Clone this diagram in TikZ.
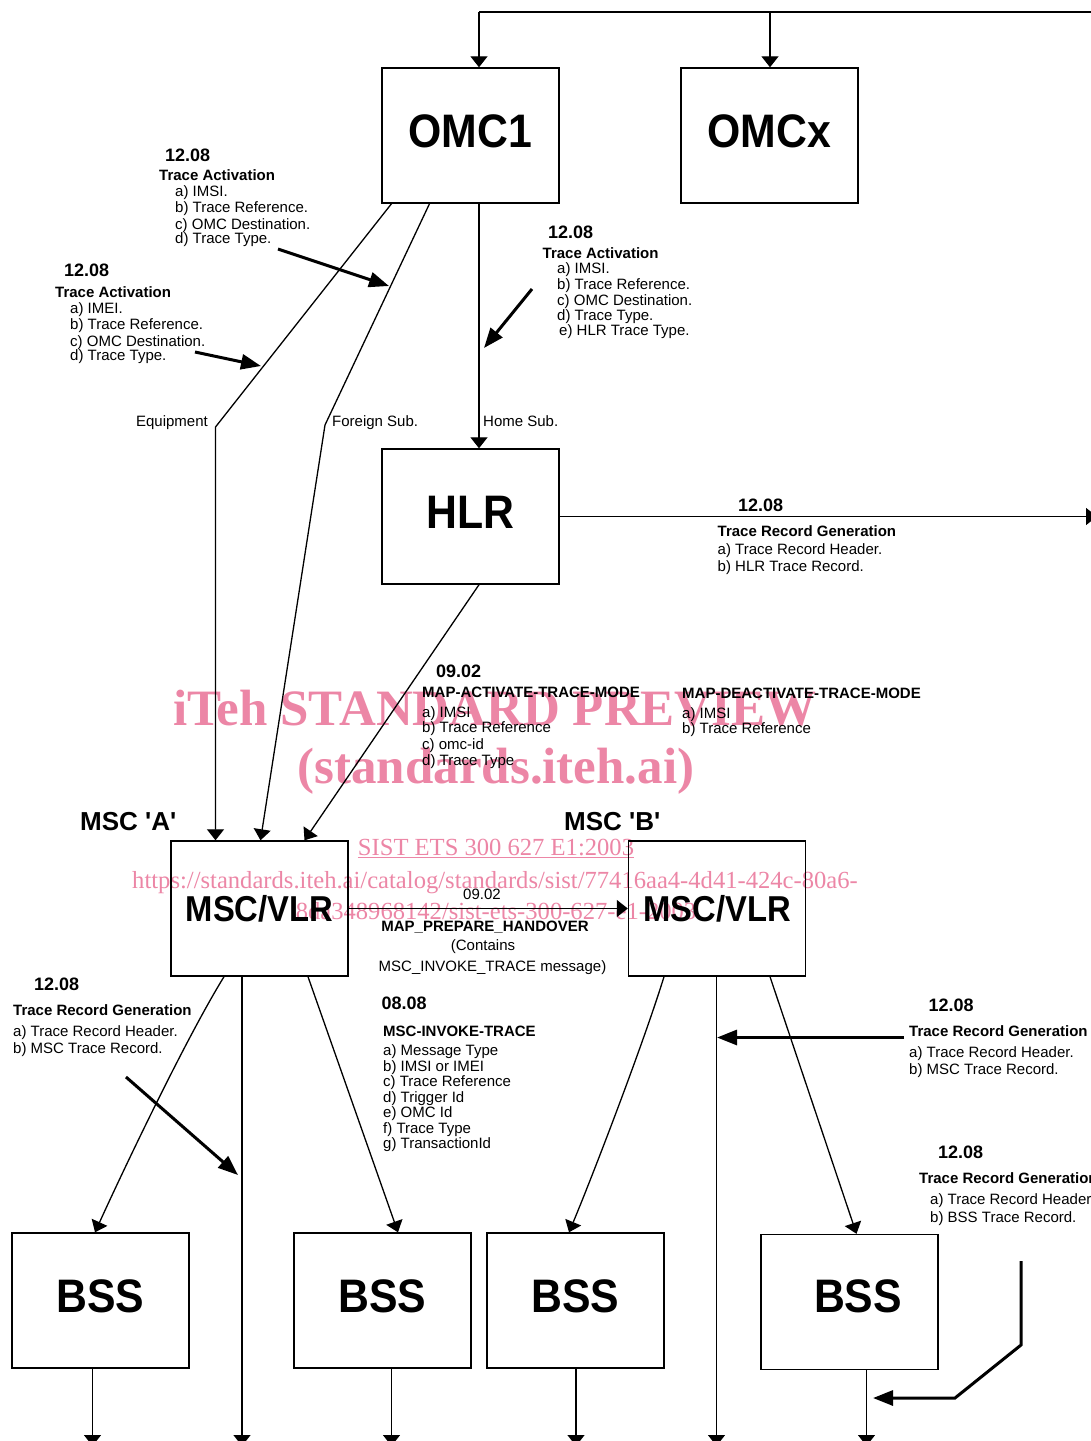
\documentclass[tikz,border=0pt]{standalone}
\usepackage{fontspec}
\setmainfont{Liberation Sans}[Ligatures=TeXOff]
\newfontfamily\wmfont{Liberation Serif}[Ligatures=TeXOff]
\usetikzlibrary{arrows.meta,calc}
\definecolor{wmpink}{RGB}{236,134,166}
\newcommand{\boxfont}{\fontsize{47}{47}\selectfont\bfseries}
\newcommand{\bxl}[1]{\scalebox{0.91}[1]{#1}}
\begin{document}
\begin{tikzpicture}[x=1pt,y=-1pt,
  box/.style={draw, line width=1.4pt, minimum width=177pt, minimum height=135pt, inner sep=0pt, font=\boxfont},
  lin/.style={line width=1.3pt},
  conn/.style={line width=1.3pt, -{Triangle[length=11pt,width=17pt]}},
  note/.style={line width=3pt, -{Triangle[length=20pt,width=15pt]}},
  txt/.style={anchor=base west, inner sep=0pt, font=\fontsize{15}{18}\selectfont},
  ctxt/.style={anchor=base, inner sep=0pt, font=\fontsize{15}{18}\selectfont},
  btxt/.style={anchor=base west, inner sep=0pt, font=\fontsize{15}{18}\selectfont\bfseries},
  cbtxt/.style={anchor=base, inner sep=0pt, font=\fontsize{15}{18}\selectfont\bfseries},
  num/.style={anchor=base west, inner sep=0pt, font=\fontsize{18}{20}\selectfont\bfseries},
  msc/.style={anchor=base west, inner sep=0pt, font=\fontsize{26}{28}\selectfont\bfseries},
  wmb/.style={anchor=base, inner sep=0pt, text=wmpink, font=\wmfont\fontsize{51}{53}\selectfont\bfseries},
  wmr/.style={anchor=base, inner sep=0pt, text=wmpink, font=\wmfont\fontsize{24.6}{27}\selectfont}
]
\useasboundingbox (0,0) rectangle (1091,1441);
\clip (0,0) rectangle (1091,1441);

% watermark
\node[wmb] (w1) at (495,725) {iTeh STANDARD PREVIEW};
\node[wmb] (w2) at (496,783) {(standards.iteh.ai)};
\node[wmr] (w3) at (496,855) {\underline{SIST ETS 300 627 E1:2003}};
\node[wmr] (w4) at (495,888) {https://standards.iteh.ai/catalog/standards/sist/77416aa4-4d41-424c-80a6-};
\node[wmr] (w5) at (496,919) {8da348968142/sist-ets-300-627-e1-2003};

% boxes
\node[box, text depth=8pt] (omc1) at (470.5,135.5) {\bxl{OMC1}};
\node[box, text depth=8pt] (omcx) at (769.5,135.5) {\bxl{OMCx}};
\node[box, text depth=8pt] (hlr) at (470.5,516.5) {\bxl{HLR}};
\node[box, font=\fontsize{36}{36}\selectfont\bfseries] (mscA) at (259.5,908.5) {\bxl{MSC/VLR}};
\node[box, font=\fontsize{36}{36}\selectfont\bfseries] (mscB) at (717,908.5) {\bxl{MSC/VLR}};
\node[box, text depth=8pt] (bss1) at (100.5,1300.5) {\bxl{BSS}};
\node[box, text depth=8pt] (bss2) at (382.5,1300.5) {\bxl{BSS}};
\node[box, text depth=8pt] (bss3) at (575.5,1300.5) {\bxl{BSS}};
\node[box, text depth=11pt] (bss4) at (849.5,1302) {\hspace*{17pt}\bxl{BSS}};

% connectors
\coordinate (tl) at (479,12);
\coordinate (tm) at (770,12);
\coordinate (tr) at (1095,12);
\draw[lin] (tr) -- (tl);
\draw[conn] (tl) -- (tl |- omc1.north);
\draw[conn] (tm) -- (tm |- omcx.north);

\coordinate (eqk) at (215.5,427);
\draw[conn] ([xshift=-79pt]omc1.south) -- (eqk) -- (eqk |- mscA.north);
\coordinate (fsk) at (325,425);
\draw[conn] ([xshift=-41pt]omc1.south) -- (fsk) -- ([xshift=1pt]mscA.north);
\draw[conn] ([xshift=8.5pt]omc1.south) -- ([xshift=8.5pt]hlr.north);
\draw[conn] ([xshift=8.5pt]hlr.south) -- ([xshift=45pt]mscA.north);
\coordinate (hout) at (1097,516.5);
\draw[conn] (hlr.east) -- (hout);
\draw[conn] (mscA.east) -- (mscB.west);

\draw[conn] ([xshift=-35.5pt]mscA.south) .. controls +(-40,65) and +(25,-55) .. ([xshift=-5.5pt]bss1.north);
\coordinate (mAv) at (242,1446);
\draw[conn] (mscA.south -| mAv) -- (mAv);
\draw[conn] ([xshift=48.5pt]mscA.south) -- ([xshift=15.5pt]bss2.north);

\draw[conn] ([xshift=-53pt]mscB.south) .. controls +(-20,65) and +(25,-60) .. ([xshift=-6.5pt]bss3.north);
\coordinate (mBv) at (716.5,1446);
\draw[conn] (mscB.south -| mBv) -- (mBv);
\draw[conn] ([xshift=53pt]mscB.south) -- ([xshift=7pt]bss4.north);

\coordinate (b1o) at (92.5,1446);
\coordinate (b2o) at (391.5,1446);
\coordinate (b3o) at (576,1446);
\coordinate (b4o) at (866.5,1446);
\draw[conn] (bss1.south -| b1o) -- (b1o);
\draw[conn] (bss2.south -| b2o) -- (b2o);
\draw[conn] (bss3.south -| b3o) -- (b3o);
\draw[conn] (bss4.south -| b4o) -- (b4o);

% annotation arrows
\coordinate (n1s) at (278,249); \coordinate (n1e) at (389,286);
\coordinate (n2s) at (195,352); \coordinate (n2e) at (261,366);
\coordinate (n3s) at (532,289); \coordinate (n3e) at (484,348);
\coordinate (n4s) at (126,1077); \coordinate (n4e) at (238,1175);
\coordinate (n5s) at (904,1037.5); \coordinate (n5e) at (717,1037.5);
\coordinate (n6a) at (1021,1261); \coordinate (n6b) at (1021,1345);
\coordinate (n6c) at (955,1398); \coordinate (n6e) at (873,1398);
\draw[note] (n1s) -- (n1e);
\draw[note] (n2s) -- (n2e);
\draw[note] (n3s) -- (n3e);
\draw[note] (n4s) -- (n4e);
\draw[note] (n5s) -- (n5e);
\draw[note] (n6a) -- (n6b) -- (n6c) -- (n6e);

% text block 1
\node[num]  (a1n) at (165,161) {12.08};
\node[btxt] (a1t) at (159,180) {Trace Activation};
\node[txt]  (a1a) at (175,196) {a) IMSI.};
\node[txt]  (a1b) at (175,212) {b) Trace Reference.};
\node[txt]  (a1c) at (175,229) {c) OMC Destination.};
\node[txt]  (a1d) at (175,243) {d) Trace Type.};

% text block 2
\node[num]  (a2n) at (64,276) {12.08};
\node[btxt] (a2t) at (55,297) {Trace Activation};
\node[txt]  (a2a) at (70,313) {a) IMEI.};
\node[txt]  (a2b) at (70,329) {b) Trace Reference.};
\node[txt]  (a2c) at (70,346) {c) OMC Destination.};
\node[txt]  (a2d) at (70,360) {d) Trace Type.};

% text block 3
\node[num]  (a3n) at (548,238) {12.08};
\node[btxt] (a3t) at (542.5,258) {Trace Activation};
\node[txt]  (a3a) at (557,273) {a) IMSI.};
\node[txt]  (a3b) at (557,289) {b) Trace Reference.};
\node[txt]  (a3c) at (557,305) {c) OMC Destination.};
\node[txt]  (a3d) at (557,320) {d) Trace Type.};
\node[txt]  (a3e) at (559,335) {e) HLR Trace Type.};

% branch labels
\node[txt, anchor=base east] (leq) at (208,426) {Equipment};
\node[txt] (lfs) at (332,426) {Foreign Sub.};
\node[txt] (lhs) at (483,426) {Home Sub.};

% HLR record
\node[num]  (h1n) at (738,511) {12.08};
\node[btxt] (h1t) at (717.5,536) {Trace Record Generation};
\node[txt]  (h1a) at (717.5,554) {a) Trace Record Header.};
\node[txt]  (h1b) at (717.5,571) {b) HLR Trace Record.};

% MAP trace mode
\node[num]  (m1n) at (436,677) {09.02};
\node[btxt] (m1t) at (422,697) {MAP-ACTIVATE-TRACE-MODE};
\node[txt]  (m1a) at (422,717) {a) IMSI};
\node[txt]  (m1b) at (422,732) {b) Trace Reference};
\node[txt]  (m1c) at (422,749) {c) omc-id};
\node[txt]  (m1d) at (422,765) {d) Trace Type};
\node[btxt] (m2t) at (682,698) {MAP-DEACTIVATE-TRACE-MODE};
\node[txt]  (m2a) at (682,718) {a) IMSI};
\node[txt]  (m2b) at (682,733) {b) Trace Reference};

% MSC labels
\node[msc] (lA) at (80,830) {MSC 'A'};
\node[msc] (lB) at (564,830) {MSC 'B'};

% handover
\node[ctxt]  (p1) at (482,899) {09.02};
\node[cbtxt] (p2) at (485,931) {MAP\_PREPARE\_HANDOVER};
\node[ctxt]  (p3) at (483,950) {(Contains};
\node[ctxt]  (p4) at (492.5,971) {MSC\_INVOKE\_TRACE message)};

% 08.08
\node[num]  (i0) at (381.5,1009) {08.08};
\node[btxt] (it) at (383,1036) {MSC-INVOKE-TRACE};
\node[txt]  (ia) at (383,1055) {a) Message Type};
\node[txt]  (ib) at (383,1071) {b) IMSI or IMEI};
\node[txt]  (ic) at (383,1086) {c) Trace Reference};
\node[txt]  (id) at (383,1102) {d) Trigger Id};
\node[txt]  (ie) at (383,1117) {e) OMC Id};
\node[txt]  (if) at (383,1133) {f) Trace Type};
\node[txt]  (ig) at (383,1148) {g) TransactionId};

% MSC A record
\node[num]  (r1n) at (34,990) {12.08};
\node[btxt] (r1t) at (13,1015) {Trace Record Generation};
\node[txt]  (r1a) at (13,1036) {a) Trace Record Header.};
\node[txt]  (r1b) at (13,1053) {b) MSC Trace Record.};

% MSC B record
\node[num]  (r2n) at (928.5,1011) {12.08};
\node[btxt] (r2t) at (909,1036) {Trace Record Generation};
\node[txt]  (r2a) at (909,1057) {a) Trace Record Header.};
\node[txt]  (r2b) at (909,1074) {b) MSC Trace Record.};

% BSS record
\node[num]  (r3n) at (938,1158) {12.08};
\node[btxt] (r3t) at (919,1183) {Trace Record Generation};
\node[txt]  (r3a) at (930,1204) {a) Trace Record Header.};
\node[txt]  (r3b) at (930,1222) {b) BSS Trace Record.};
\end{tikzpicture}
\end{document}
